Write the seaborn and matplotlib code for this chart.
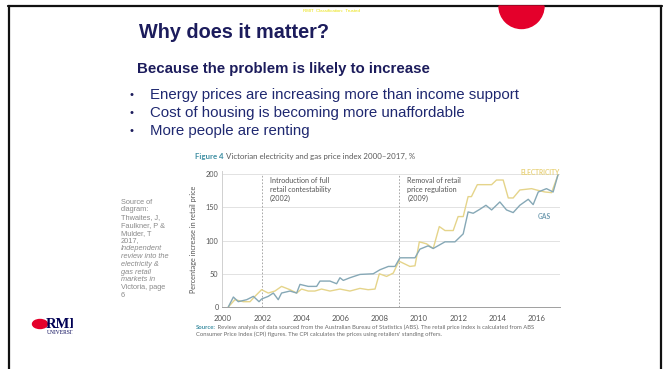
import numpy as np
import pandas as pd
import matplotlib
matplotlib.use("Agg")
import matplotlib.pyplot as plt
import seaborn as sns
from matplotlib.patches import Wedge, Ellipse, Rectangle
from matplotlib.lines import Line2D

# ---- data: Victorian retail price index (% increase since 2000) ----
elec_year = [2000.27, 2000.61, 2001.04, 2001.38, 2001.63, 2001.97, 2002.31, 2002.65,
             2002.99, 2003.42, 2003.76, 2004.01, 2004.35, 2004.69, 2005.03, 2005.46,
             2005.97, 2006.48, 2006.99, 2007.41, 2007.76, 2007.98, 2008.35, 2008.69,
             2008.98, 2009.54, 2009.80, 2010.02, 2010.39, 2010.73, 2011.04, 2011.33,
             2011.75, 2012.00, 2012.26, 2012.51, 2012.68, 2012.98, 2013.71, 2013.96,
             2014.30, 2014.56, 2014.81, 2015.15, 2015.75, 2016.00, 2016.43, 2016.77,
             2017.10]
elec_val = [0, 11, 8, 8, 16, 26, 21, 24,
            31, 26, 21, 27, 24, 24, 27, 24,
            27, 24, 28, 26, 27, 50, 46, 51,
            69, 61, 62, 98, 95, 88, 121, 115,
            115, 136, 136, 166, 166, 184, 184, 191,
            191, 164, 164, 176, 178, 176, 173, 172,
            199]

gas_year = [2000.27, 2000.53, 2000.78, 2001.21, 2001.55, 2001.84, 2001.97, 2002.31,
            2002.57, 2002.82, 2002.99, 2003.42, 2003.76, 2003.93, 2004.35, 2004.78,
            2004.95, 2005.46, 2005.80, 2005.97, 2006.14, 2006.48, 2006.99, 2007.67,
            2008.01, 2008.44, 2008.78, 2009.03, 2009.80, 2010.05, 2010.47, 2010.73,
            2011.33, 2011.84, 2012.26, 2012.51, 2012.77, 2013.11, 2013.42, 2013.71,
            2014.13, 2014.47, 2014.81, 2015.15, 2015.58, 2015.83, 2016.09, 2016.51,
            2016.85, 2017.10]
gas_val = [0, 15, 8, 11, 16, 8, 12, 16,
           21, 11, 21, 24, 21, 34, 31, 31,
           39, 39, 35, 44, 40, 44, 49, 50,
           56, 61, 61, 74, 74, 87, 92, 88,
           98, 98, 110, 143, 141, 147, 153, 146,
           158, 146, 142, 153, 162, 154, 173, 178,
           173, 199]

series_names = ["ELECTRICITY", "GAS"]
year_ticks = [2000, 2002, 2004, 2006, 2008, 2010, 2012, 2014, 2016]
value_ticks = [0, 50, 100, 150, 200]
events = [(2002, "Introduction of full\nretail contestability\n(2002)"),
          (2009, "Removal of retail\nprice regulation\n(2009)")]

bullets = ["Energy prices are increasing more than income support",
           "Cost of housing is becoming more unaffordable",
           "More people are renting"]
citation = ["Source of", "diagram:", "Thwaites, J,", "Faulkner, P &", "Mulder, T",
            "2017,", "Independent", "review into the", "electricity &", "gas retail",
            "markets in", "Victoria, page", "6"]
citation_italic = {6, 7, 8, 9, 10}

df = pd.concat([
    pd.DataFrame({"year": elec_year, "value": elec_val, "series": series_names[0]}),
    pd.DataFrame({"year": gas_year, "value": gas_val, "series": series_names[1]}),
])

# ---- figure ----
W, H = 663, 369
sns.set_theme(style="white")
plt.rcParams["font.family"] = ["Liberation Sans", "DejaVu Sans"]
fig = plt.figure(figsize=(W / 100, H / 100), dpi=100)
fig.patch.set_facecolor("white")

# full-figure overlay in pixel units for the slide furniture
ov = fig.add_axes([0, 0, 1, 1], zorder=0)
ov.set_xlim(0, W)
ov.set_ylim(H, 0)
ov.axis("off")

navy = "#1c1c5c"
ov.add_patch(Wedge((521.5, 6), 22.5, 0, 180, color="#e4002b", zorder=3))
ov.add_line(Line2D([8, 662], [6, 6], color="#111111", lw=1.6, zorder=2))
ov.add_line(Line2D([9, 9], [6, H], color="#111111", lw=1.6, zorder=2))
ov.add_line(Line2D([661, 661], [6, H], color="#111111", lw=1.6, zorder=2))

ov.text(331, 11, "RMIT  Classification:  Trusted", fontsize=3.2, color="#e8e000",
        ha="center", va="center")
ov.text(139, 32, "Why does it matter?", fontsize=14.3, fontweight="bold", color=navy,
        ha="left", va="center")
ov.text(137, 69.5, "Because the problem is likely to increase", fontsize=10.8,
        fontweight="bold", color=navy, ha="left", va="center")
for i, b in enumerate(bullets):
    y = 94.5 + i * 18.3
    ov.text(129, y, "•", fontsize=8, color=navy, ha="left", va="center")
    ov.text(150, y, b, fontsize=10.8, color="#1f2870", ha="left", va="center")

for i, line in enumerate(citation):
    ov.text(121, 202 + i * 7.78, line, fontsize=5.3, color="#8a8a8a", ha="left",
            va="center", style="italic" if i in citation_italic else "normal")

# university logo, cropped on its right by the text panel
ov.add_patch(Ellipse((40, 324), 15, 9, color="#e4002b", zorder=3))
ov.text(46, 324.5, "RMIT", fontsize=10.5, fontweight="bold", color="#000054",
        family="Liberation Serif", ha="left", va="center", zorder=3)
ov.text(47, 332.5, "UNIVERSITY", fontsize=4.0, color="#000054",
        family="Liberation Serif", ha="left", va="center", zorder=3)
ov.add_patch(Rectangle((73, 312), 40, 28, color="white", zorder=4))

# chart caption and source note
cap_font = ["Lato", "DejaVu Sans"]
fig_lab = ov.text(195, 156, "Figure 4", fontsize=5.7, color="#3f8fa3", fontweight="bold",
                  ha="left", va="center", family=cap_font)
ov.annotate(" Victorian electricity and gas price index 2000–2017, %", xy=(1, 0.5),
            xycoords=fig_lab, fontsize=5.7, color="#5a5a5a", ha="left", va="center",
            family=cap_font)
src_lab = ov.text(196, 327.5, "Source:", fontsize=4.2, color="#3f8fa3", fontweight="bold",
                  ha="left", va="center", family=cap_font)
ov.annotate(" Review analysis of data sourced from the Australian Bureau of Statistics (ABS). "
            "The retail price index is calculated from ABS", xy=(1, 0.5), xycoords=src_lab,
            fontsize=4.2, color="#6a6a6a", ha="left", va="center", family=cap_font)
ov.text(196, 334.5, "Consumer Price Index (CPI) figures. The CPI calculates the prices using "
        "retailers' standing offers.", fontsize=4.2, color="#6a6a6a",
        ha="left", va="center", family=cap_font)

# ---- the price-index chart ----
x0, x1, y_top, y_bot = 222, 560, 170.7, 307
ax = fig.add_axes([x0 / W, 1 - y_bot / H, (x1 - x0) / W, (y_bot - y_top) / H], zorder=1)
ax.patch.set_alpha(0)

palette = {"ELECTRICITY": "#e5d48a", "GAS": "#86a8b6"}
sns.lineplot(data=df, x="year", y="value", hue="series", palette=palette,
             estimator=None, linewidth=1.0, legend=False, ax=ax, zorder=3)

ax.set_xlim(1999.95, 2017.2)
ax.set_ylim(0, 205)
ax.set_xticks(year_ticks)
ax.set_yticks(value_ticks)
for v in value_ticks[1:]:
    ax.axhline(v, color="#e2e2e2", lw=0.7, zorder=1)
for yr, label in events:
    ax.axvline(yr, ymax=200 / 205, color="#9a9a9a", lw=0.6, ls=(0, (2, 2)), zorder=2)
    ax.text(yr + 0.4, 195, label, fontsize=5.2, color="#555555", ha="left", va="top",
            linespacing=1.25, family=cap_font)

ax.text(2017.18, 203, "ELECTRICITY", fontsize=4.8, color="#e8d27a", ha="right",
        va="center", fontweight="bold", family=cap_font)
ax.text(2016.4, 135.5, "GAS", fontsize=4.8, color="#6f9bb0", ha="center",
        va="center", fontweight="bold", family=cap_font)

for s in ("top", "right"):
    ax.spines[s].set_visible(False)
ax.spines["left"].set_color("#d0d0d0")
ax.spines["left"].set_linewidth(0.7)
ax.spines["bottom"].set_color("#a0a0a0")
ax.spines["bottom"].set_linewidth(0.7)
ax.tick_params(axis="y", length=0, pad=2.5, labelsize=5.3, labelcolor="#555555")
ax.tick_params(axis="x", direction="in", length=2, width=0.5, color="#a0a0a0",
               pad=6, labelsize=5.6, labelcolor="#555555")
for lab in ax.get_xticklabels() + ax.get_yticklabels():
    lab.set_family(cap_font)
ax.set_xlabel("")
ax.set_ylabel("Percentage increase in retail price", fontsize=5.2, color="#555555",
              labelpad=6, family=cap_font)
ax.grid(False)

fig.savefig("out.png", dpi=100, facecolor="white")
